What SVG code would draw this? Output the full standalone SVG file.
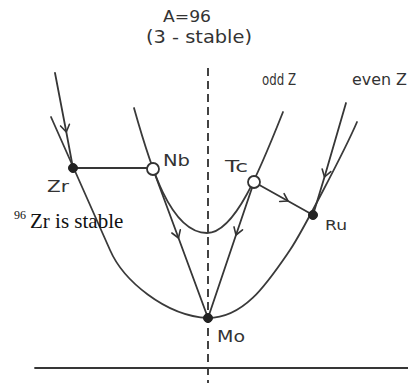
<svg xmlns="http://www.w3.org/2000/svg" width="408" height="383" viewBox="0 0 408 383">
  <defs>
    <marker id="chev" markerUnits="userSpaceOnUse" markerWidth="16" markerHeight="16" viewBox="-8 -8 16 16" refX="0" refY="0" orient="auto" overflow="visible">
      <path d="M-7,-4.5 L0,0 L-7,4.5" fill="none" stroke="#333" stroke-width="1.6" stroke-linecap="round" stroke-linejoin="round"/>
    </marker>
  </defs>
  <style>
    .ln { fill: none; stroke: #363636; stroke-width: 1.8; stroke-linecap: round; stroke-linejoin: round; }
    .cv { fill: none; stroke: #3a3a3a; stroke-width: 1.8; stroke-linecap: round; }
    .ar { marker-mid: url(#chev); }
    .dash { fill: none; stroke: #3a3a3a; stroke-width: 1.9; stroke-dasharray: 8 5; }
    .hand { font-family: "DejaVu Sans", "Liberation Sans", sans-serif; fill: #333; }
    .serif { font-family: "Liberation Serif", "Times New Roman", serif; fill: #111; }
    .full { fill: #222; stroke: #222; stroke-width: 1; }
    .open { fill: #fff; stroke: #333; stroke-width: 1.8; }
  </style>
  <rect width="408" height="383" fill="#fff"/>

  <!-- axes / guides -->
  <line x1="35" y1="368" x2="408" y2="368" class="ln" stroke-width="1.6"/>
  <line x1="208" y1="68" x2="208" y2="383" class="dash"/>

  <!-- titles -->
  <text x="163" y="22" class="hand" font-size="16" textLength="48" lengthAdjust="spacingAndGlyphs">A=96</text>
  <text x="146" y="43" class="hand" font-size="17" textLength="106" lengthAdjust="spacingAndGlyphs">(3 - stable)</text>
  <text x="262" y="85" class="hand" font-size="15" textLength="34" lengthAdjust="spacingAndGlyphs">odd Z</text>
  <text x="352" y="85" class="hand" font-size="15" textLength="55" lengthAdjust="spacingAndGlyphs">even Z</text>

  <!-- parabolas -->
  <g id="even-Z-parabola">
    <path class="cv" d="M51,117 C63,145 98,222 110,250 C123,280 165,316 208,318 C245,318 268,282 290,250 C301,234 345,150 357,122"/>
  </g>
  <g id="odd-Z-parabola">
    <path class="cv" d="M134,108 C150,165 170,233 207,233 C235,233 260,170 283,112"/>
  </g>

  <!-- connectors -->
  <g id="connectors">
    <path class="ln ar" d="M55,73 L66.3,132 L73,168"/>
    <path class="ln" d="M73,168 L153,168"/>
    <path class="ln ar" d="M153,169 L178.5,238 L208,318"/>
    <path class="ln ar" d="M254,182 L236,235 L208,318"/>
    <path class="ln ar" d="M254,182 L288,201 L313,215"/>
    <path class="ln ar" d="M346,103 L324.5,177 L313,215"/>
  </g>

  <!-- nodes -->
  <g id="Zr">
    <circle cx="73" cy="168" r="4.5" class="full"/>
    <text x="47" y="192" class="hand" font-size="15" textLength="22" lengthAdjust="spacingAndGlyphs">Zr</text>
  </g>
  <g id="Nb">
    <circle cx="153" cy="169" r="6" class="open"/>
    <text x="163" y="166" class="hand" font-size="15" textLength="27" lengthAdjust="spacingAndGlyphs">Nb</text>
  </g>
  <g id="Tc">
    <circle cx="254" cy="182" r="6" class="open"/>
    <text x="225" y="172" class="hand" font-size="15" textLength="23" lengthAdjust="spacingAndGlyphs">Tc</text>
  </g>
  <g id="Ru">
    <circle cx="313" cy="215" r="4.5" class="full"/>
    <text x="325" y="230" class="hand" font-size="14" textLength="22" lengthAdjust="spacingAndGlyphs">Ru</text>
  </g>
  <g id="Mo">
    <circle cx="208" cy="318" r="4.5" class="full"/>
    <text x="217" y="342" class="hand" font-size="15" textLength="28" lengthAdjust="spacingAndGlyphs">Mo</text>
  </g>

  <g id="note">
    <text x="14" y="218.5" class="serif" font-size="12">96</text>
    <text x="30" y="228" class="serif" font-size="21">Zr is stable</text>
  </g>
</svg>
